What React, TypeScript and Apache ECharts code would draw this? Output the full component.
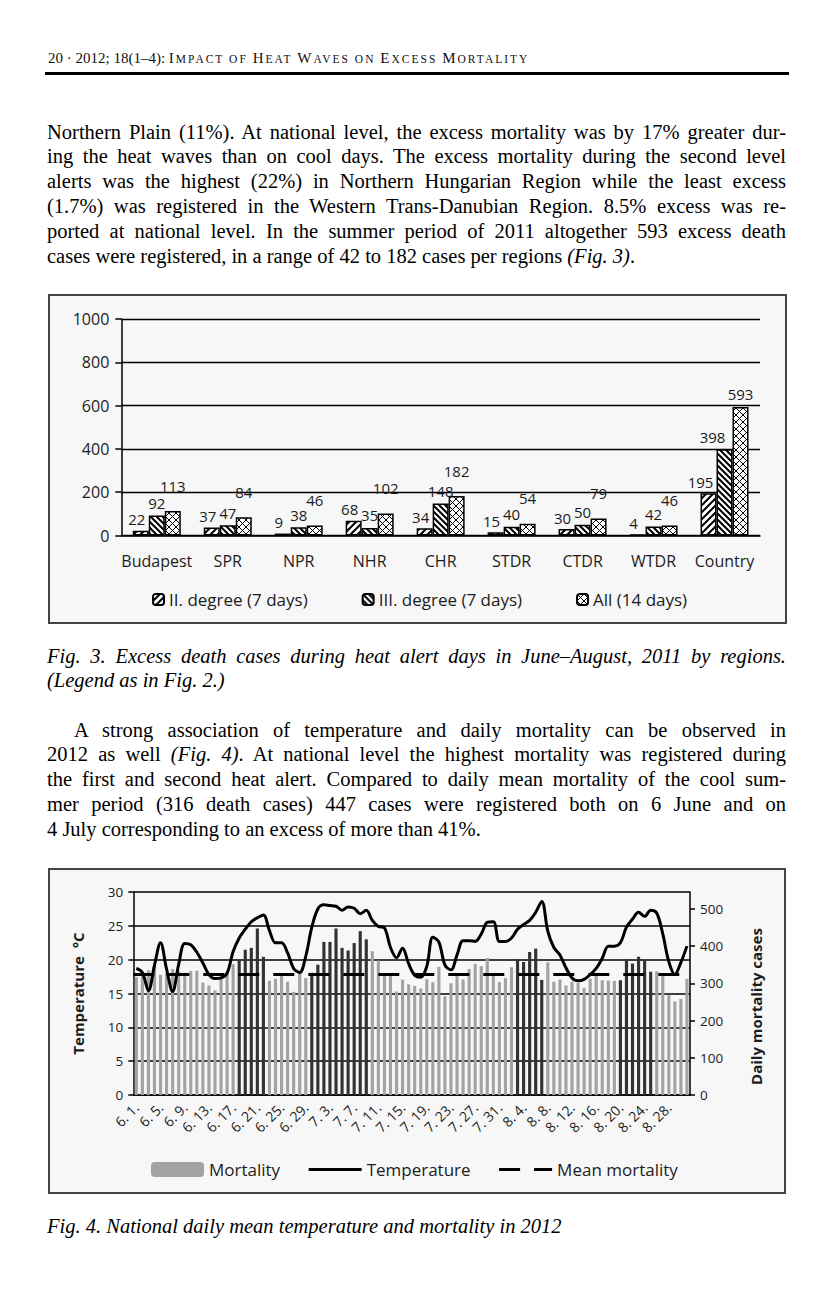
import React, { useEffect, useRef } from "react";
import * as echarts from "echarts";

// ---------- Fig. 3 data ----------
const regions = ["Budapest", "SPR", "NPR", "NHR", "CHR", "STDR", "CTDR", "WTDR", "Country"];
const degree2 = [22, 37, 9, 68, 34, 15, 30, 4, 195];
const degree3 = [92, 47, 38, 35, 148, 40, 50, 42, 398];
const allDays = [113, 84, 46, 102, 182, 54, 79, 46, 593];
const fig3SeriesNames = ["II. degree (7 days)", "III. degree (7 days)", "All (14 days)"];

// ---------- Fig. 4 data ----------
const days = [
  "6. 1.", "6. 2.", "6. 3.", "6. 4.", "6. 5.", "6. 6.", "6. 7.", "6. 8.", "6. 9.", "6. 10.",
  "6. 11.", "6. 12.", "6. 13.", "6. 14.", "6. 15.", "6. 16.", "6. 17.", "6. 18.", "6. 19.", "6. 20.",
  "6. 21.", "6. 22.", "6. 23.", "6. 24.", "6. 25.", "6. 26.", "6. 27.", "6. 28.", "6. 29.", "6. 30.",
  "7. 1.", "7. 2.", "7. 3.", "7. 4.", "7. 5.", "7. 6.", "7. 7.", "7. 8.", "7. 9.", "7. 10.",
  "7. 11.", "7. 12.", "7. 13.", "7. 14.", "7. 15.", "7. 16.", "7. 17.", "7. 18.", "7. 19.", "7. 20.",
  "7. 21.", "7. 22.", "7. 23.", "7. 24.", "7. 25.", "7. 26.", "7. 27.", "7. 28.", "7. 29.", "7. 30.",
  "7. 31.", "8. 1.", "8. 2.", "8. 3.", "8. 4.", "8. 5.", "8. 6.", "8. 7.", "8. 8.", "8. 9.",
  "8. 10.", "8. 11.", "8. 12.", "8. 13.", "8. 14.", "8. 15.", "8. 16.", "8. 17.", "8. 18.", "8. 19.",
  "8. 20.", "8. 21.", "8. 22.", "8. 23.", "8. 24.", "8. 25.", "8. 26.", "8. 27.", "8. 28.", "8. 29.",
  "8. 30.", "8. 31."
];
const mortality = [
  317, 329, 335, 350, 322, 328, 338, 333, 328, 333,
  334, 302, 294, 281, 317, 325, 351, 363, 390, 395,
  447, 371, 307, 312, 321, 304, 277, 330, 314, 328,
  350, 411, 411, 447, 395, 388, 408, 440, 418, 386,
  361, 324, 321, 278, 310, 297, 293, 286, 311, 303,
  344, 265, 300, 321, 310, 338, 352, 346, 368, 321,
  303, 314, 343, 365, 357, 384, 393, 309, 356, 304,
  310, 294, 304, 301, 288, 312, 320, 308, 307, 306,
  308, 365, 353, 371, 361, 331, 332, 326, 268, 251,
  258, 312
];
const temperature = [
  18.7, 18.1, 15.4, 19.2, 22.5, 18.6, 15.3, 19.3, 22.4, 22.2,
  21.1, 19.5, 17.8, 17.2, 17.3, 18.0, 21.2, 23.2, 24.5, 25.6,
  26.2, 26.6, 24.3, 22.5, 22.5, 21.0, 18.7, 18.1, 20.5, 24.8,
  27.5, 28.1, 28.0, 27.9, 27.3, 27.8, 27.6, 26.8, 27.3, 25.8,
  24.9, 24.7, 21.8, 20.3, 21.7, 19.4, 17.7, 17.4, 19.0, 23.3,
  22.6, 19.2, 18.5, 20.7, 22.8, 22.8, 22.7, 23.8, 25.5, 25.6,
  22.7, 22.7, 23.2, 24.5, 25.2, 25.8, 27.0, 28.6, 24.2, 21.8,
  20.7, 18.8, 17.3, 16.9, 17.1, 17.8, 18.7, 20.2, 22.0, 22.0,
  22.5, 24.8, 26.0, 27.0, 26.4, 27.3, 26.9, 23.8, 19.7, 17.8,
  19.6, 22.0
];
const heatAlert = [
  0, 0, 0, 0, 0, 0, 0, 0, 0, 0,
  0, 0, 0, 0, 0, 0, 0, 1, 1, 1,
  1, 1, 0, 0, 0, 0, 0, 0, 0, 1,
  1, 1, 1, 1, 1, 1, 1, 1, 1, 0,
  0, 0, 0, 0, 0, 0, 0, 0, 0, 0,
  0, 0, 0, 0, 0, 0, 0, 0, 0, 0,
  0, 0, 0, 1, 1, 1, 1, 1, 0, 0,
  0, 0, 0, 0, 0, 0, 0, 0, 0, 0,
  1, 1, 1, 1, 1, 1, 0, 0, 0, 0,
  0, 0
];
const meanMortality = 325;
const mortalityTicks = [0, 100, 200, 300, 400, 500];

// ---------- helpers ----------
const tile = (w: number, h: number, d: string, sw: number) => ({
  image:
    "data:image/svg+xml;charset=utf-8," +
    encodeURIComponent(
      `<svg xmlns="http://www.w3.org/2000/svg" width="${w}" height="${h}"><rect width="${w}" height="${h}" fill="#ffffff"/><path d="${d}" stroke="#000" stroke-width="${sw}" fill="none"/></svg>`
    ),
  repeat: "repeat",
  imageWidth: w,
  imageHeight: h,
});

const fwdHatch = tile(7, 7, "M-1,8L8,-1M-4,4L4,-4M3,11L11,3", 2);
const backHatch = tile(6, 6, "M-1,-1L7,7M-4,2L2,8M2,-4L8,2", 2);
const crossHatch = tile(7, 7, "M-1,-1L8,8M-1,8L8,-1", 1);

function Chart({ option, width, height }: { option: any; width: number; height: number }) {
  const ref = useRef<HTMLDivElement>(null);
  useEffect(() => {
    const c = echarts.init(ref.current!, null, { renderer: "svg", width, height });
    c.setOption(option);
    return () => c.dispose();
  }, []);
  return <div ref={ref} style={{ width, height }} />;
}

const chartFont = '"Open Sans", "Liberation Sans", sans-serif';
const ink = "#1c1c1c";
const lastRegion = regions.length - 1;

const fig3Option = {
  animation: false,
  textStyle: { fontFamily: chartFont },
  grid: { left: 71.3, right: 25, top: 23, bottom: 86.5 },
  legend: {
    left: 97,
    top: 290,
    itemWidth: 11,
    itemHeight: 11,
    itemGap: 54,
    textStyle: { fontSize: 17, color: ink, fontFamily: chartFont },
    data: fig3SeriesNames,
  },
  xAxis: {
    type: "category",
    data: regions,
    axisLine: { lineStyle: { color: "#000", width: 1.5 } },
    axisTick: { length: 6, lineStyle: { color: "#000", width: 1.5 } },
    axisLabel: { interval: 0, fontSize: 16, color: ink, margin: 17 },
  },
  yAxis: {
    type: "value",
    min: 0,
    max: 1000,
    interval: 200,
    axisLine: { show: true, lineStyle: { color: "#000", width: 1.5 } },
    axisTick: { show: true, length: 6, lineStyle: { color: "#000", width: 1.5 } },
    splitLine: { lineStyle: { color: "#000", width: 1.3 } },
    axisLabel: { fontSize: 16, color: ink, margin: 12, formatter: (v: number) => String(v) },
  },
  series: [
    {
      name: fig3SeriesNames[0],
      type: "bar",
      data: degree2.map((v, i) => (i === lastRegion ? { value: v, label: { offset: [-8, 0] } } : v)),
      barWidth: 16,
      barGap: "0%",
      itemStyle: { color: fwdHatch, borderColor: "#000", borderWidth: 1.5 },
      label: { show: true, position: "top", distance: 4, offset: [-4, 0], fontSize: 15, color: ink },
    },
    {
      name: fig3SeriesNames[1],
      type: "bar",
      data: degree3.map((v, i) => (i === lastRegion ? { value: v, label: { offset: [-12, 0] } } : v)),
      barWidth: 16,
      barGap: "0%",
      itemStyle: { color: backHatch, borderColor: "#000", borderWidth: 1.5 },
      label: { show: true, position: "top", distance: 5, fontSize: 15, color: ink },
    },
    {
      name: fig3SeriesNames[2],
      type: "bar",
      data: allDays.map((v, i) => (i === lastRegion ? { value: v, label: { distance: 6 } } : v)),
      barWidth: 16,
      barGap: "0%",
      itemStyle: { color: crossHatch, borderColor: "#000", borderWidth: 1.5 },
      label: { show: true, position: "top", distance: 18, fontSize: 15, color: ink },
    },
  ],
};

const fig4Option = {
  animation: false,
  textStyle: { fontFamily: chartFont },
  grid: { left: 83.3, right: 94, top: 22, bottom: 97 },
  legend: {
    left: 96,
    top: 286,
    itemWidth: 53,
    itemHeight: 15,
    itemGap: 27,
    textStyle: { fontSize: 17, color: ink, fontFamily: chartFont },
    data: [
      { name: "Mortality" },
      { name: "Temperature", itemStyle: { opacity: 0 }, lineStyle: { color: "#000", width: 3, type: "solid" } },
      { name: "Mean mortality", itemStyle: { opacity: 0 }, lineStyle: { color: "#000", width: 3, type: [21, 14] } },
    ],
  },
  xAxis: {
    type: "category",
    data: days,
    axisLine: { lineStyle: { color: "#000", width: 1.5 } },
    axisTick: { interval: 3, length: 5, lineStyle: { color: "#000", width: 1.5 } },
    axisLabel: { interval: 3, rotate: 45, fontSize: 14, color: ink, margin: 10 },
  },
  yAxis: [
    {
      type: "value",
      min: 0,
      max: 30,
      interval: 5,
      name: "Temperature  \u00b0C",
      nameLocation: "middle",
      nameGap: 48,
      nameTextStyle: { fontWeight: "bold", fontSize: 15, color: ink },
      axisLine: { show: true, lineStyle: { color: "#000", width: 1.5 } },
      axisTick: { show: true, length: 5, lineStyle: { color: "#000", width: 1.5 } },
      splitLine: { lineStyle: { color: "#000", width: 1.5 } },
      axisLabel: { fontSize: 13.5, color: ink, margin: 10 },
    },
    {
      type: "value",
      position: "right",
      min: 0,
      max: 545,
      interval: 100,
      name: "Daily mortality cases",
      nameLocation: "middle",
      nameGap: 58,
      nameRotate: 90,
      nameTextStyle: { fontWeight: "bold", fontSize: 15, color: ink, padding: [0, 26, 0, 0] },
      axisLine: { show: true, lineStyle: { color: "#000", width: 1.5 } },
      axisTick: { show: true, length: 5, customValues: mortalityTicks, lineStyle: { color: "#000", width: 1.5 } },
      splitLine: { show: false },
      axisLabel: { fontSize: 13.5, color: ink, margin: 10, customValues: mortalityTicks },
    },
  ],
  series: [
    {
      name: "Mortality",
      type: "bar",
      yAxisIndex: 1,
      barWidth: "52%",
      itemStyle: { color: "#a3a3a3" },
      data: mortality.map((v, i) => ({
        value: v,
        itemStyle: { color: heatAlert[i] ? "#333333" : "#a3a3a3" },
      })),
    },
    {
      name: "Mean mortality",
      type: "line",
      yAxisIndex: 1,
      data: [],
      symbol: "none",
      lineStyle: { color: "#000", width: 3, type: [21, 14] },
      itemStyle: { color: "#000" },
      markLine: {
        silent: true,
        symbol: ["none", "none"],
        label: { show: false },
        lineStyle: { color: "#000", width: 3, type: [21, 14] },
        data: [{ yAxis: meanMortality }],
      },
    },
    {
      name: "Temperature",
      type: "line",
      yAxisIndex: 0,
      data: temperature,
      smooth: 0.35,
      symbol: "none",
      lineStyle: { color: "#000", width: 3 },
      itemStyle: { color: "#000" },
      z: 5,
    },
  ],
};

// ---------- page text ----------
const serif = '"Liberation Serif", "Times New Roman", serif';
const FS = 20.5;
const LH = 24.8;

function Line({ top, left = 47, width = 739, justify = true, italic = false, children }: any) {
  return (
    <div
      style={{
        position: "absolute",
        top,
        left,
        width,
        fontFamily: serif,
        fontSize: FS,
        lineHeight: LH + "px",
        whiteSpace: "nowrap",
        textAlign: justify ? "justify" : "left",
        textAlignLast: justify ? "justify" : "left",
        fontStyle: italic ? "italic" : "normal",
        color: "#000",
      }}
    >
      {children}
    </div>
  );
}

const headerWords = ["Impact", "of", "Heat", "Waves", "on", "Excess", "Mortality"];

function SmallCaps({ words }: { words: string[] }) {
  return (
    <span style={{ letterSpacing: 2 }}>
      {words.map((w, i) => {
        const first = w[0];
        const isCap = first === first.toUpperCase();
        return (
          <span key={i}>
            {isCap ? <span style={{ fontSize: 15 }}>{first}</span> : <span style={{ fontSize: 11.5 }}>{first.toUpperCase()}</span>}
            <span style={{ fontSize: 11.5 }}>{w.slice(1).toUpperCase()}</span>
            {i < words.length - 1 ? <span style={{ fontSize: 11.5 }}> </span> : null}
          </span>
        );
      })}
    </span>
  );
}

const p1 = [
  "Northern Plain (11%). At national level, the excess mortality was by 17% greater dur-",
  "ing the heat waves than on cool days. The excess mortality during the second level",
  "alerts was the highest (22%) in Northern Hungarian Region while the least excess",
  "(1.7%) was registered in the Western Trans-Danubian Region. 8.5% excess was re-",
  "ported at national level. In the summer period of 2011 altogether 593 excess death",
];
const p2 = [
  "the first and second heat alert. Compared to daily mean mortality of the cool sum-",
  "mer period (316 death cases) 447 cases were registered both on 6 June and on",
];

export default function App() {
  const off = 19.32;
  const p1Top = 139 - off;
  const p2Top = 737 - off;
  return (
    <div style={{ position: "absolute", left: 0, top: 0, width: 834, height: 1294, background: "#fff", overflow: "hidden" }}>
      {/* running header */}
      <div
        style={{
          position: "absolute",
          left: 48,
          top: 48.6,
          fontFamily: serif,
          fontSize: 15,
          lineHeight: "18px",
          whiteSpace: "nowrap",
          color: "#111",
        }}
      >
        20 · 2012; 18(1–4): <SmallCaps words={headerWords} />
      </div>
      <div style={{ position: "absolute", left: 45, top: 72, width: 744, height: 3, background: "#000" }} />

      {p1.map((t, i) => (
        <Line key={"p1" + i} top={p1Top + i * LH}>
          {t}
        </Line>
      ))}
      <Line top={p1Top + 5 * LH} justify={false}>
        cases were registered, in a range of 42 to 182 cases per regions <i>(Fig. 3)</i>.
      </Line>

      {/* Fig. 3 */}
      <div
        style={{
          position: "absolute",
          left: 48,
          top: 294,
          width: 739,
          height: 330,
          boxSizing: "border-box",
          border: "2px solid #444",
          background: "#f7f7f7",
        }}
      >
        <Chart option={fig3Option} width={735} height={326} />
      </div>
      <Line top={663 - off} italic>
        Fig. 3. Excess death cases during heat alert days in June–August, 2011 by regions.
      </Line>
      <Line top={663 - off + LH} italic justify={false}>
        (Legend as in Fig. 2.)
      </Line>

      <Line top={p2Top} left={74} width={712}>
        A strong association of temperature and daily mortality can be observed in
      </Line>
      <Line top={p2Top + LH}>
        2012 as well <i>(Fig. 4)</i>. At national level the highest mortality was registered during
      </Line>
      {p2.map((t, i) => (
        <Line key={"p2" + i} top={p2Top + (i + 2) * LH}>
          {t}
        </Line>
      ))}
      <Line top={p2Top + 4 * LH} justify={false}>
        4 July corresponding to an excess of more than 41%.
      </Line>

      {/* Fig. 4 */}
      <div
        style={{
          position: "absolute",
          left: 48,
          top: 868,
          width: 738,
          height: 326,
          boxSizing: "border-box",
          border: "2px solid #444",
          background: "#f7f7f7",
        }}
      >
        <Chart option={fig4Option} width={734} height={322} />
      </div>
      <Line top={1233 - off} italic justify={false}>
        Fig. 4. National daily mean temperature and mortality in 2012
      </Line>
    </div>
  );
}
